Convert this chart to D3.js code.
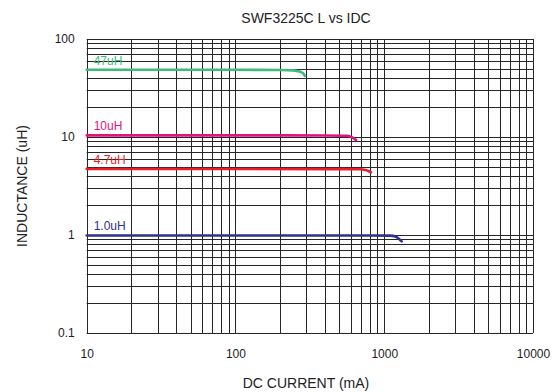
<!DOCTYPE html>
<html><head><meta charset="utf-8">
<script src="https://cdn.jsdelivr.net/npm/d3@7"></script>
<style>body{margin:0;background:#fff}svg{display:block;font-family:"Liberation Sans",Arial,sans-serif}</style>
</head><body><svg id="c" width="555" height="392"></svg>
<script>
const title = "SWF3225C L vs IDC";
const xLabel = "DC CURRENT (mA)";
const yLabel = "INDUCTANCE (uH)";
const xTicks = [10, 100, 1000, 10000];
const yTicks = [0.1, 1, 10, 100];
const seriesNames = ["47uH", "10uH", "4.7uH", "1.0uH"];
const seriesColors = ["#3dba7c", "#e3127f", "#ec1c2a", "#2e3192"];
const current47 = [10, 100, 200, 244, 270, 285, 293];
const induct47 = [48.5, 48.5, 48.2, 47.8, 46.5, 44.5, 42];
const current10 = [10, 100, 400, 558, 600, 630, 646];
const induct10 = [10.4, 10.4, 10.35, 10.3, 10.0, 9.6, 9.3];
const current4_7 = [10, 100, 500, 687, 750, 795, 815];
const induct4_7 = [4.72, 4.72, 4.7, 4.68, 4.6, 4.45, 4.36];
const current1_0 = [10, 100, 800, 1092, 1200, 1270, 1309];
const induct1_0 = [0.99, 0.99, 0.99, 0.985, 0.96, 0.9, 0.86];

const series = [
  {name: seriesNames[0], color: seriesColors[0], x: current47, y: induct47},
  {name: seriesNames[1], color: seriesColors[1], x: current10, y: induct10},
  {name: seriesNames[2], color: seriesColors[2], x: current4_7, y: induct4_7},
  {name: seriesNames[3], color: seriesColors[3], x: current1_0, y: induct1_0}
];

const svg = d3.select("#c");
const L = 86.7, R = 533, T = 39, B = 333;
const x = d3.scaleLog().domain([10, 10000]).range([L, R]);
const y = d3.scaleLog().domain([0.1, 100]).range([B, T]);

const gridX = [], gridY = [];
for (let d = 10; d < 10000; d *= 10) for (let m = 1; m < 10; m++) gridX.push(d * m);
gridX.push(10000);
for (let d = 0.1; d < 99; d *= 10) for (let m = 1; m < 10; m++) gridY.push(+(d * m).toPrecision(3));
gridY.push(100);

const g = svg.append("g");
g.selectAll("line.gx").data(gridX).join("line")
  .attr("x1", d => Math.round(x(d)) + 0.5).attr("x2", d => Math.round(x(d)) + 0.5)
  .attr("y1", T).attr("y2", B)
  .attr("stroke", "#262626").attr("stroke-width", 1);
g.selectAll("line.gy").data(gridY).join("line")
  .attr("y1", d => Math.round(y(d)) + 0.5).attr("y2", d => Math.round(y(d)) + 0.5)
  .attr("x1", L).attr("x2", R)
  .attr("stroke", "#262626").attr("stroke-width", 1);

const xAxis = d3.axisBottom(x).tickValues(xTicks).tickFormat(d3.format("d")).tickSize(0).tickPadding(16);
const xg = svg.append("g").attr("transform", `translate(0,${B})`).call(xAxis);
xg.select(".domain").remove();
xg.selectAll("text").attr("font-size", 12).attr("fill", "#222").attr("font-family", "Liberation Sans, Arial, sans-serif");

const yAxis = d3.axisLeft(y).tickValues(yTicks).tickFormat(d => d < 1 ? "0.1" : String(d)).tickSize(0).tickPadding(12);
const yg = svg.append("g").attr("transform", `translate(${L},0)`).call(yAxis);
yg.select(".domain").remove();
yg.selectAll("text").attr("font-size", 12).attr("fill", "#222").attr("font-family", "Liberation Sans, Arial, sans-serif");

const line = d3.line().x(d => x(d[0])).y(d => y(d[1])).curve(d3.curveMonotoneX);
series.forEach(s => {
  const pts = s.x.map((v, i) => [v, s.y[i]]);
  svg.append("path").attr("d", line(pts)).attr("fill", "none")
    .attr("stroke", s.color).attr("stroke-width", 2.6).attr("stroke-linecap", "round");
  svg.append("text").attr("x", x(10) + 7).attr("y", y(s.y[0]) - 5)
    .attr("font-size", 12).attr("fill", s.color).text(s.name);
});

svg.append("text").attr("x", 306).attr("y", 23).attr("text-anchor", "middle")
  .attr("font-size", 14).attr("fill", "#222").text(title);
svg.append("text").attr("x", 306).attr("y", 388).attr("text-anchor", "middle")
  .attr("font-size", 14).attr("fill", "#222").text(xLabel);
svg.append("text").attr("transform", "translate(27,186) rotate(-90)").attr("text-anchor", "middle")
  .attr("font-size", 14).attr("fill", "#222").text(yLabel);
</script></body></html>
